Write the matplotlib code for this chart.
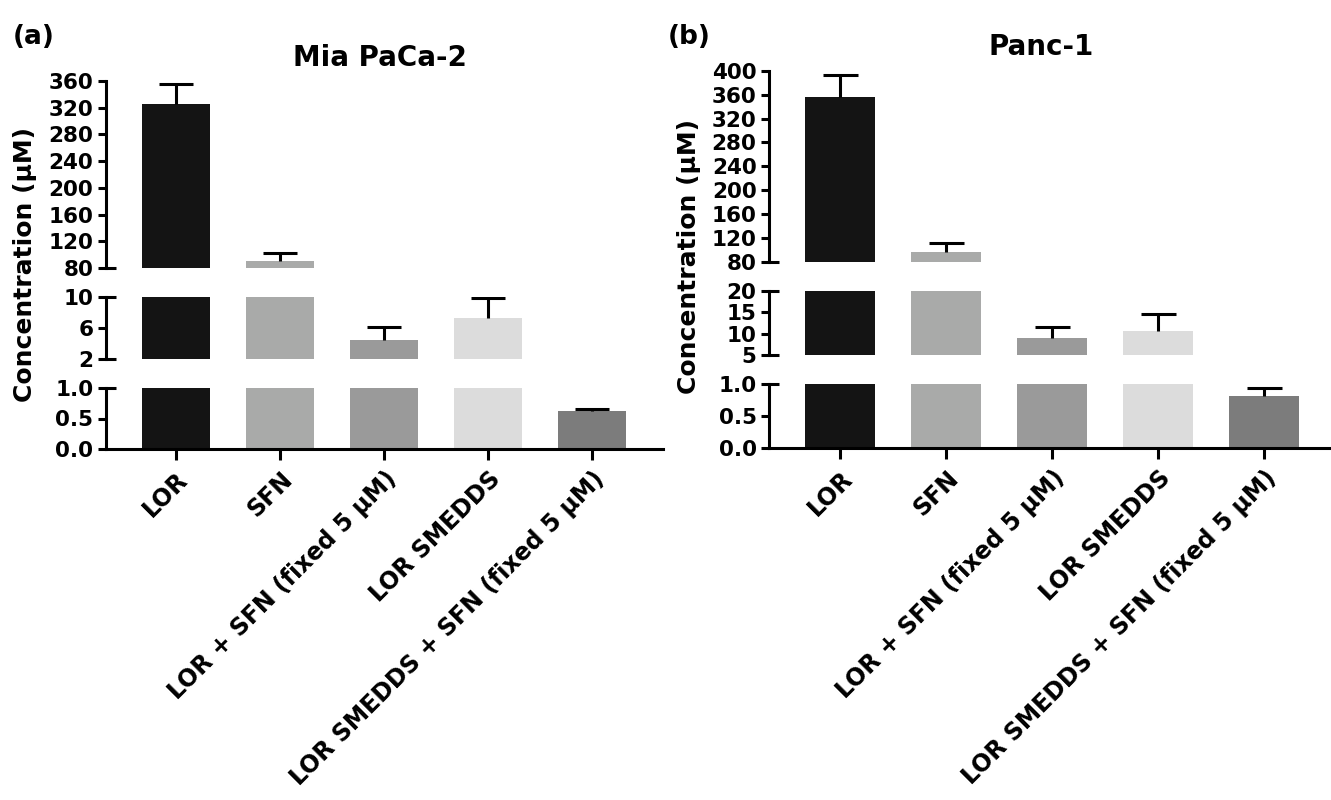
import matplotlib
matplotlib.use('Agg')
import matplotlib.pyplot as plt
from matplotlib.ticker import FixedLocator, FormatStrFormatter

plt.rcParams['font.family'] = ['DejaVu Sans']
plt.rcParams['font.weight'] = 'bold'

# ---- data -------------------------------------------------------------
groups = ['LOR', 'SFN', 'LOR + SFN (fixed 5 µM)', 'LOR SMEDDS',
          'LOR SMEDDS + SFN (fixed 5 µM)']
bar_colors = ['#141414', '#a9aaa9', '#9a9a9a', '#dcdcdc', '#7c7c7c']

mia_mean = [326, 90, 4.5, 7.25, 0.62]
mia_err = [29, 13, 1.6, 2.6, 0.04]
panc_mean = [356, 97, 8.9, 10.7, 0.81]
panc_err = [36, 15, 2.6, 3.8, 0.13]

# broken y axis: segments bottom -> top, and their ticks
mia_segments = [(0, 1), (2, 10), (80, 360)]
mia_ticks = [[0, 0.5, 1.0], [2, 6, 10], list(range(80, 361, 40))]
panc_segments = [(0, 1), (5, 20), (80, 400)]
panc_ticks = [[0, 0.5, 1.0], [5, 10, 15, 20], list(range(80, 401, 40))]

W, H = 1331, 800
fig = plt.figure(figsize=(W / 100, H / 100), dpi=100)
fig.patch.set_facecolor('white')

LW = 2.2


def px_box(x0, x1, ytop, ybot):
    return [x0 / W, 1 - ybot / H, (x1 - x0) / W, (ybot - ytop) / H]


def draw_panel(means, errs, segments, ticks, x0, x1, rows, xlim, width):
    xs = list(range(len(groups)))
    tops = [m + e for m, e in zip(means, errs)]
    for i, ((lo, hi), tks, (yt, yb)) in enumerate(zip(segments, ticks, rows)):
        ax = fig.add_axes(px_box(x0, x1, yt, yb))
        ax.bar(xs, means, width=width, color=bar_colors, edgecolor='none', zorder=2)
        # one-sided error bars
        ax.vlines(xs, means, tops, color='black', linewidth=LW, zorder=3)
        ax.hlines(tops, [x - width / 4 for x in xs], [x + width / 4 for x in xs],
                  color='black', linewidth=LW, zorder=3)
        ax.set_ylim(lo, hi)
        ax.set_xlim(*xlim)
        for s in ['top', 'right']:
            ax.spines[s].set_visible(False)
        ax.spines['left'].set_linewidth(LW)
        ax.yaxis.set_major_locator(FixedLocator(tks))
        if i == 0:
            ax.yaxis.set_major_formatter(FormatStrFormatter('%.1f'))
        else:
            ax.yaxis.set_major_formatter(FormatStrFormatter('%d'))
        # inward half of the ticks at the break ends
        ax.yaxis.remove_overlapping_locs = False
        ends = [lo, hi] if i == 1 else ([hi] if i == 0 else [lo])
        ax.yaxis.set_minor_locator(FixedLocator(ends))
        ax.tick_params(axis='y', which='major', direction='out', length=6,
                       width=LW, labelsize=15.5, pad=3)
        ax.tick_params(axis='y', which='minor', direction='in', length=7, width=LW)
        if i == 0:
            ax.spines['bottom'].set_linewidth(LW)
            ax.set_xticks(xs)
            ax.set_xticklabels(groups, rotation=45, ha='right',
                               rotation_mode='anchor', fontsize=17, fontweight='bold')
            ax.tick_params(axis='x', direction='out', length=8, width=LW, pad=5)
        else:
            ax.spines['bottom'].set_visible(False)
            ax.set_xticks([])
        for lab in ax.get_yticklabels():
            lab.set_fontweight('bold')
        ax.set_facecolor('none')


draw_panel(mia_mean, mia_err, mia_segments, mia_ticks, 106, 663,
           [(388, 449), (297, 359), (81, 268)], (-0.67, 4.68), 0.65)
draw_panel(panc_mean, panc_err, panc_segments, panc_ticks, 769, 1329,
           [(384, 448), (291, 355), (70.7, 262)], (-0.67, 4.61), 0.66)

# titles, panel letters and axis labels
fig.text(380 / W, 1 - 58 / H, 'Mia PaCa-2', ha='center', va='center',
         fontsize=20, fontweight='bold')
fig.text(1041 / W, 1 - 47 / H, 'Panc-1', ha='center', va='center',
         fontsize=20, fontweight='bold')
fig.text(13 / W, 1 - 37 / H, '(a)', ha='left', va='center', fontsize=19, fontweight='bold')
fig.text(668 / W, 1 - 37 / H, '(b)', ha='left', va='center', fontsize=19, fontweight='bold')
fig.text(25 / W, 1 - 264 / H, 'Concentration (µM)', rotation=90, ha='center',
         va='center', fontsize=18, fontweight='bold')
fig.text(689 / W, 1 - 257 / H, 'Concentration (µM)', rotation=90, ha='center',
         va='center', fontsize=18, fontweight='bold')

fig.savefig('out.png', dpi=100, facecolor='white')
